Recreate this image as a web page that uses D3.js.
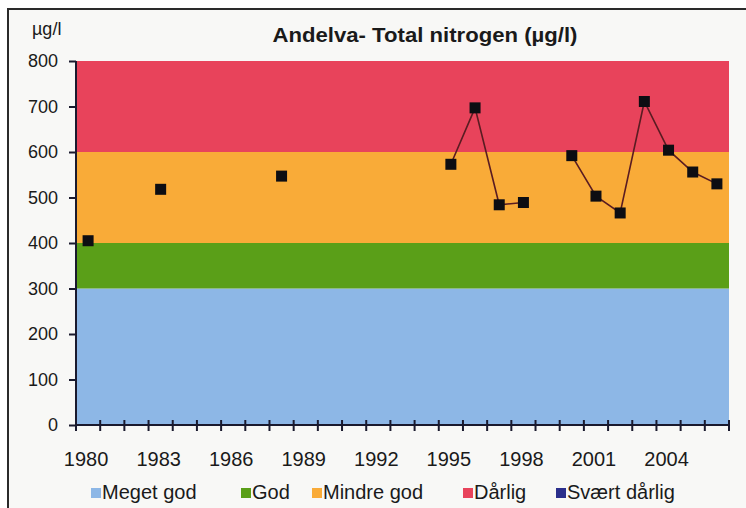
<!DOCTYPE html>
<html>
<head>
<meta charset="utf-8">
<script src="https://cdn.jsdelivr.net/npm/d3@7"></script>
<style>
    html, body { margin: 0; padding: 0; background: #ffffff; overflow: hidden; }
    #chart svg { display: block; }
</style>
</head>
<body>
<div id="chart"></div>
<script>
// Data
const years = d3.range(1980, 2007);
const measuredYears = [1980, 1983, 1988, 1995, 1996, 1997, 1998, 2000, 2001, 2002, 2003, 2004, 2005, 2006];
const nitrogen = [405, 518, 547, 573, 697, 484, 489, 592, 503, 466, 711, 604, 556, 530];
const yTicks = [0, 100, 200, 300, 400, 500, 600, 700, 800];
const tickYears = [1980, 1983, 1986, 1989, 1992, 1995, 1998, 2001, 2004];

// Quality classes (bands)
const classNames = ["Meget god", "God", "Mindre god", "Dårlig", "Svært dårlig"];
const classLow = [0, 300, 400, 600, null];
const classHigh = [300, 400, 600, 800, null];
const classColors = ["#8db7e6", "#5a9f18", "#f9ab38", "#e8435b", "#2b2f8c"];

const width = 746;
const height = 508;
const margin = { top: 61, right: 17, bottom: 83, left: 76 };
const innerWidth = width - margin.left - margin.right;
const innerHeight = height - margin.top - margin.bottom;
const fontFamily = "Liberation Sans, Arial, sans-serif";
const textColor = "#1a1a1a";

const svg = d3.select("#chart")
    .append("svg")
    .attr("width", width)
    .attr("height", height)
    .attr("font-family", fontFamily);

// chart background + frame (only top and left edges are visible in the picture)
svg.append("rect")
    .attr("x", 8).attr("y", 9)
    .attr("width", width - 8).attr("height", height - 9)
    .attr("fill", "#f8f8f6");
svg.append("path")
    .attr("d", `M8,${height} V9 H${width}`)
    .attr("fill", "none")
    .attr("stroke", "#2a2a2a")
    .attr("stroke-width", 2);

const innerChart = svg.append("g")
    .attr("transform", `translate(${margin.left},${margin.top})`);

const xScale = d3.scaleBand()
    .domain(years)
    .range([0, innerWidth])
    .padding(0);

const yScale = d3.scaleLinear()
    .domain([0, 800])
    .range([innerHeight, 0]);

/* coloured bands */
const bands = classNames.map((name, i) => ({ name, lo: classLow[i], hi: classHigh[i], color: classColors[i] }))
    .filter(d => d.lo !== null);

innerChart.selectAll("rect.band")
    .data(bands)
    .join("rect")
        .attr("class", "band")
        .attr("x", 0)
        .attr("y", d => yScale(d.hi))
        .attr("width", innerWidth)
        .attr("height", d => yScale(d.lo) - yScale(d.hi))
        .attr("fill", d => d.color);

/* y axis */
const yAxisGroup = innerChart.append("g")
    .call(d3.axisLeft(yScale).tickValues(yTicks).tickSize(7).tickPadding(11))
    .attr("font-family", fontFamily)
    .attr("font-size", 18);
yAxisGroup.select(".domain").remove();
yAxisGroup.selectAll(".tick line").attr("stroke", "#1a1a2e").attr("stroke-width", 2);
yAxisGroup.selectAll(".tick text").attr("fill", textColor);
yAxisGroup.append("line")
    .attr("x1", 0).attr("x2", 0)
    .attr("y1", 0).attr("y2", innerHeight)
    .attr("stroke", "#1a1a2e")
    .attr("stroke-width", 2);

/* x axis: ticks on category boundaries, labels in the middle */
const boundaries = years.map(y => xScale(y)).concat([innerWidth]);
const xAxisGroup = innerChart.append("g")
    .attr("transform", `translate(0,${innerHeight})`);
xAxisGroup.append("line")
    .attr("x1", 0).attr("x2", innerWidth)
    .attr("stroke", "#1a1a2e")
    .attr("stroke-width", 2);
xAxisGroup.selectAll("line.tick")
    .data(boundaries)
    .join("line")
        .attr("class", "tick")
        .attr("x1", d => d).attr("x2", d => d)
        .attr("y1", -5).attr("y2", 6)
        .attr("stroke", "#1a1a2e")
        .attr("stroke-width", 2);
xAxisGroup.selectAll("text")
    .data(tickYears)
    .join("text")
        .attr("x", d => xScale(d) + xScale.bandwidth() / 2 - 2)
        .attr("y", 41)
        .attr("text-anchor", "middle")
        .attr("font-size", 20)
        .attr("fill", textColor)
        .text(d => d);

/* series: line broken where a year is missing */
const points = measuredYears.map((yr, i) => ({ year: yr, value: nitrogen[i] }));
const byYear = new Map(points.map(d => [d.year, d.value]));
const series = years.map(yr => ({ year: yr, value: byYear.has(yr) ? byYear.get(yr) : null }));

const line = d3.line()
    .defined(d => d.value !== null)
    .x(d => xScale(d.year) + xScale.bandwidth() / 2)
    .y(d => yScale(d.value));

innerChart.append("path")
    .datum(series)
    .attr("d", line)
    .attr("fill", "none")
    .attr("stroke", "#5a1c22")
    .attr("stroke-width", 1.6);

const markerSize = 11;
innerChart.selectAll("rect.marker")
    .data(points)
    .join("rect")
        .attr("class", "marker")
        .attr("x", d => xScale(d.year) + xScale.bandwidth() / 2 - markerSize / 2)
        .attr("y", d => yScale(d.value) - markerSize / 2)
        .attr("width", markerSize)
        .attr("height", markerSize)
        .attr("fill", "#0d0d12");

/* titles */
svg.append("text")
    .attr("x", 425)
    .attr("y", 42)
    .attr("text-anchor", "middle")
    .attr("font-size", 21)
    .attr("font-weight", "bold")
    .attr("textLength", 305)
    .attr("lengthAdjust", "spacingAndGlyphs")
    .attr("fill", textColor)
    .text("Andelva- Total nitrogen (µg/l)");

svg.append("text")
    .attr("x", 32)
    .attr("y", 35)
    .attr("font-size", 18)
    .attr("fill", textColor)
    .text("µg/l");

/* legend */
const legendX = [91, 241, 312, 463, 556];
const legend = svg.append("g").attr("class", "legend");
const items = legend.selectAll("g")
    .data(classNames.map((name, i) => ({ name, color: classColors[i], x: legendX[i] })))
    .join("g")
        .attr("transform", d => `translate(${d.x},488)`);
items.append("rect")
    .attr("width", 10)
    .attr("height", 10)
    .attr("fill", d => d.color);
items.append("text")
    .attr("x", 11)
    .attr("y", 11)
    .attr("font-size", 20)
    .attr("fill", textColor)
    .text(d => d.name);
</script>
</body>
</html>
